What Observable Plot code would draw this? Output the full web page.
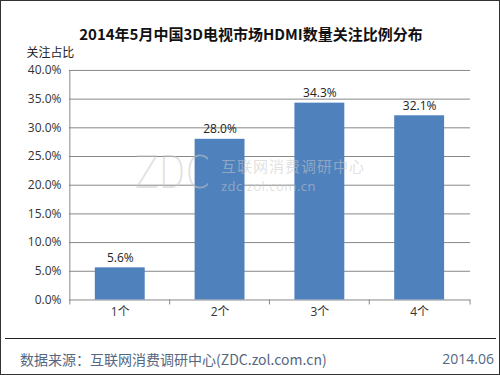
<!DOCTYPE html>
<html>
<head>
<meta charset="utf-8">
<script src="https://cdn.jsdelivr.net/npm/d3@7"></script>
<script src="https://cdn.jsdelivr.net/npm/@observablehq/plot@0.6"></script>
<style>
  html, body { margin: 0; padding: 0; background: #fff; }
  #frame { position: relative; width: 500px; height: 375px; box-sizing: border-box; border: 1px solid #333; overflow: hidden; font-family: "Open Sans", "Noto Sans CJK SC", sans-serif; }
  #title { position: absolute; left: 0; top: 23px; width: 500px; text-align: center; font-size: 15px; font-weight: bold; color: #111; line-height: 20px; font-family: "Noto Sans CJK SC", sans-serif; }
  #chart { position: absolute; left: -1px; top: 41px; }
  #footline { position: absolute; left: 4px; top: 337px; width: 491px; border-top: 1px solid #222; }
  #source { position: absolute; left: 19px; top: 349px; font-size: 14px; color: #55677f; line-height: 18px; font-family: "Noto Sans CJK SC", sans-serif; }
  #date { position: absolute; right: 5px; top: 349px; font-size: 14px; color: #55677f; line-height: 18px; }
  #wm { position: absolute; left: 134px; top: 150px; width: 240px; height: 46px; pointer-events: none; }
  #wm span { position: absolute; display: block; white-space: nowrap; color: rgba(200,200,200,0.55); }
  #wm .big { left: 0; top: 0; height: 44px; font-size: 45px; line-height: 44px; letter-spacing: 0; font-weight: 200; font-family: "DejaVu Sans", sans-serif; transform: scaleX(0.77); transform-origin: 0 50%; }
  #wm .cn { left: 86px; top: 7px; height: 16px; font-size: 15px; line-height: 16px; font-family: "Noto Sans CJK SC", sans-serif; letter-spacing: 1px; }
  #wm .url { left: 86px; top: 28px; height: 14px; font-size: 13px; line-height: 14px; font-family: "Open Sans", sans-serif; letter-spacing: 0.5px; }
</style>
</head>
<body>
<div id="frame">
  <div id="title"></div>
  <div id="chart"></div>
  <div id="wm"><span class="big">ZDC</span><span class="cn">互联网消费调研中心</span><span class="url">zdc.zol.com.cn</span></div>
  <div id="footline"></div>
  <div id="source"></div>
  <div id="date"></div>
</div>
<script>
const titleText = "2014年5月中国3D电视市场HDMI数量关注比例分布";
const yLabel = "关注占比";
const categories = ["1个", "2个", "3个", "4个"];
const values = [0.056, 0.280, 0.343, 0.321];
const yTicks = [0, 0.05, 0.10, 0.15, 0.20, 0.25, 0.30, 0.35, 0.40];
const sourceText = "数据来源：互联网消费调研中心(ZDC.zol.com.cn)";
const dateText = "2014.06";

document.getElementById("title").textContent = titleText;
document.getElementById("source").textContent = sourceText;
document.getElementById("date").textContent = dateText;

const data = categories.map((c, i) => ({cat: c, value: values[i]}));
const fmt = d3.format(".1%");
const step = (472 - 68) / categories.length;
const last = categories[categories.length - 1];

const chart = Plot.plot({
  width: 500,
  height: 290,
  marginTop: 28,
  marginBottom: 32,
  marginLeft: 69,
  marginRight: 29,
  style: {fontFamily: "'Open Sans', 'Noto Sans CJK SC', sans-serif", fontSize: "12px", color: "#333", background: "transparent"},
  x: {domain: categories, paddingInner: 0.5, paddingOuter: 0.25, label: null, tickSize: 0, tickPadding: 8},
  y: {domain: [0, 0.4], ticks: yTicks, tickFormat: fmt, label: null, tickSize: 0, tickPadding: 8},
  marks: [
    Plot.ruleY(yTicks, {stroke: "#888", strokeWidth: 1}),
    Plot.ruleX(categories, {x: d => d, y1: 0, y2: 0, insetBottom: -5, dx: -step / 2, stroke: "#888"}),
    Plot.ruleX([last], {x: d => d, y1: 0, y2: 0, insetBottom: -5, dx: step / 2, stroke: "#888"}),
    Plot.ruleX([categories[0]], {x: d => d, y1: 0, y2: 0.4, dx: -step / 2, stroke: "#888"}),
    Plot.barY(data, {x: "cat", y: "value", fill: "#4f81bd"}),
    Plot.text(data, {x: "cat", y: "value", text: d => fmt(d.value), dy: -10, fill: "#222", fontSize: 12}),
    Plot.text([yLabel], {frameAnchor: "top-left", text: d => d, dx: -43, dy: -22, fill: "#222", fontSize: 12, textAnchor: "start"})
  ]
});
document.getElementById("chart").appendChild(chart);
</script>
</body>
</html>
